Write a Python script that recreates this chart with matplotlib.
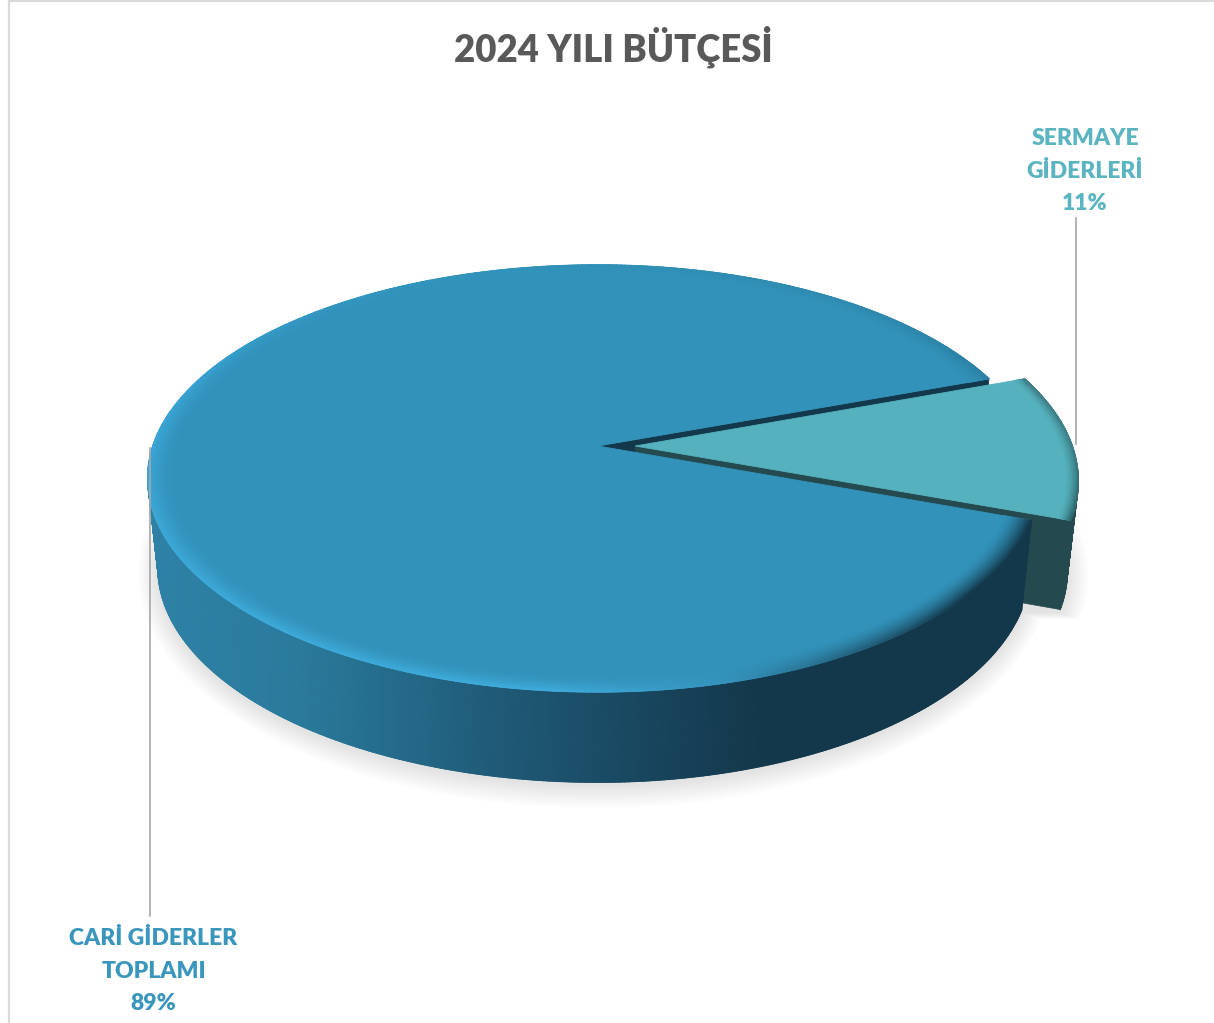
#!/usr/bin/env python3
import matplotlib
matplotlib.use('Agg')
import numpy as n
import matplotlib.pyplot as plt
from matplotlib.collections import LineCollection
from matplotlib.colors import to_rgb

title = "2024 YILI BÜTÇESİ"
labels = ["CARİ GİDERLER\nTOPLAMI\n89%", "SERMAYE\nGİDERLERİ\n11%"]
values = [89.0, 11.0]

main_col = "#3292ba"
teal_col = "#55b1bd"
teal_wall = "#24494e"
main_dark = "#14384b"

# pie projection, all in pixels of the picture
cx = 598.0
top_cy, top_a, top_b = 446.0, 445.0, 208.5
bot_cy, bot_a, bot_b = 534.5, 435.0, 210.0
persp = 0.152
explode = 0.085
right_squeeze = 0.982
rim_in = 0.94


def proj(theta, r=1.0, level="top", dx=0.0):
    X = r*n.cos(n.radians(theta))+dx
    Y = r*n.sin(n.radians(theta))
    d = 1.0+persp*Y
    X = n.where(X > 0, X*right_squeeze, X)
    if level == "top":
        return cx+top_a*X/d, top_cy-top_b*Y/d
    return cx+bot_a*X/d, bot_cy-bot_b*Y/d


def ramp(v, xs, cols):
    c = n.array([to_rgb(k) for k in cols])
    return n.stack([n.interp(v, xs, c[:, i]) for i in range(3)], axis=-1)


def edge(ax, x, y, cols, z, lw=1.1):
    pts = n.stack([x, y], axis=1)
    segs = n.stack([pts[:-1], pts[1:]], axis=1)
    ax.add_collection(LineCollection(segs, colors=cols[:-1], linewidths=lw, zorder=z, capstyle="round"))


def wall(ax, th, z, cfun, dx=0.0):
    xt, yt = proj(th, dx=dx)
    xb, yb = proj(th, level="bot", dx=dx)
    X = n.stack([xt, xb], axis=0)
    Y = n.stack([yt, yb], axis=0)
    C = cfun(X)
    ax.pcolormesh(X, Y, C, shading="gouraud", zorder=z)
    edge(ax, xb, yb, C[1], z+0.1)
    edge(ax, xt, yt, C[0], z+0.1)


def face(ax, th, col, rim_ang, rim_cols, z, dx=0.0, r0=rim_in):
    xo, yo = proj(th, dx=dx)
    ax_x, ax_y = proj(n.array([0.0]), r=0.0, dx=dx)
    ax.fill(n.r_[ax_x, xo], n.r_[ax_y, yo], color=col, lw=0.6, zorder=z)
    base = n.array(to_rgb(col))
    rim = ramp(n.mod(th, 360.0), rim_ang, rim_cols)
    X = []
    Y = []
    C = []
    for r in n.linspace(r0, 1.0, 11):
        a, b = proj(th, r=r, dx=dx)
        t = ((r-r0)/(1.0-r0))**1.6
        X.append(a)
        Y.append(b)
        C.append(base*(1-t)+rim*t)
    ax.pcolormesh(n.array(X), n.array(Y), n.array(C), shading="gouraud", zorder=z+0.1)
    edge(ax, xo, yo, rim, z+0.2)


fig = plt.figure(figsize=[12.14, 10.23], dpi=100)
ax = fig.add_axes([0, 0, 1, 1])
ax.set_xlim(0, 1214)
ax.set_ylim(1023, 0)
ax.axis("off")

half = 360.0*values[1]/sum(values)/2.0
th_main = n.linspace(half, 360.0-half, 500)
th_front = n.linspace(170.0, 360.0-half, 300)
th_teal = n.linspace(-half, half, 80)

# frame of the chart area
ax.plot([9, 9], [0, 1023], color="#d9d9d9", lw=1.6, zorder=1)
ax.plot([9, 1214], [0.8, 0.8], color="#d9d9d9", lw=1.6, zorder=1)

# soft shadow under the pie
sx, sy = proj(th_main, level="bot")
tx, ty = proj(th_teal, level="bot", dx=explode)
ex = n.r_[sx, tx]
ey = n.r_[sy, ty]
for g in n.linspace(20.0, 1.0, 14):
    k = 1.0+g/440.0
    ax.fill(cx+(ex-cx)*k, bot_cy+3.0+(ey-bot_cy)*(1.0+g/212.0), color="k", alpha=0.009, lw=0, zorder=2)

# upper cut wall of the big slice, seen in the gap
x0, y0 = proj(n.array([0.0]), r=0.0)
x1, y1 = proj(n.array([half]))
x0b, y0b = proj(n.array([0.0]), r=0.0, level="bot")
x1b, y1b = proj(n.array([half]), level="bot")
ax.fill([x0[0], x1[0], x1b[0], x0b[0]], [y0[0], y1[0], y1b[0], y0b[0]], color=main_dark, lw=0.5, zorder=3)

# exploded slice
x0, y0 = proj(n.array([0.0]), r=0.0, dx=explode)
x1, y1 = proj(n.array([-half]), dx=explode)
x0b, y0b = proj(n.array([0.0]), r=0.0, level="bot", dx=explode)
x1b, y1b = proj(n.array([-half]), level="bot", dx=explode)
ax.fill([x0[0], x1[0], x1b[0], x0b[0]], [y0[0], y1[0], y1b[0], y0b[0]], color=teal_wall, lw=0.5, zorder=4)
wall(ax, th_teal, 4.2, lambda X: ramp(X, [0, 2000], [teal_wall, teal_wall]), dx=explode)
face(ax, th_teal, teal_col, [0, 20, 340, 360],
     ["#3d8089", "#3f7f88", "#2f666c", "#3d8089"], 5, dx=explode, r0=0.972)

# big slice, front wall then top
wall(ax, th_front, 6, lambda X: ramp(X, [150, 300, 500, 700, 760, 1040],
                                     ["#2e82a6", "#2a7a9c", "#1f5a77", "#163f55", "#14384b", "#14384b"]))
face(ax, th_main, main_col,
     [0, 20, 50, 90, 140, 170, 210, 265, 285, 300, 320, 340, 360],
     ["#1f5f7c", "#2b80a4", "#2f8ab0", "#3090b7", "#3499c4", "#3aa5d6", "#3da9d9", "#3fabdb",
      "#3592bb", "#24637f", "#14384b", "#14384b", "#1f5f7c"], 7)

# leader lines
ax.plot([1076, 1076], [218, 444], color="#a6a6a6", lw=1.2, zorder=9)
ax.plot([149.5, 149.5], [448, 916], color="#a6a6a6", lw=1.2, zorder=9)

# texts
ax.text(613, 47, title, color="#595959", fontsize=26.3, fontweight="heavy", family="Lato",
        ha="center", va="center", zorder=10)
ax.text(153.5, 971, labels[0], color="#3a96bd", fontsize=16.5, fontweight="heavy", family="Lato",
        ha="center", va="center", linespacing=1.7, zorder=10)
ax.text(1085, 171, labels[1], color="#5ab5c0", fontsize=16.5, fontweight="heavy", family="Lato",
        ha="center", va="center", linespacing=1.7, zorder=10)

fig.savefig("out.png", dpi=100, facecolor="white")
